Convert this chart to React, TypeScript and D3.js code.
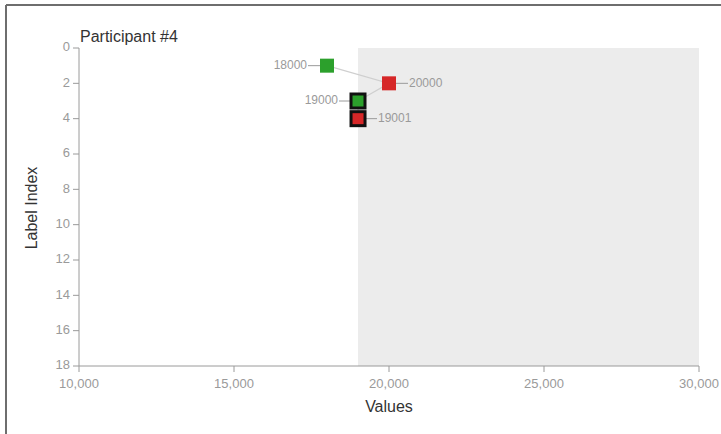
import * as d3 from "d3";

type Point = {
    value: number;
    index: number;
    kind: "start" | "end";
    outlined: boolean;
};

const title = "Participant #4";
const pointValues = [18000, 20000, 19000, 19001];
const pointIndices = [1, 2, 3, 4];
const pointKinds: ("start" | "end")[] = ["start", "end", "start", "end"];
const pointOutlined = [false, false, true, true];
const shadeRange = [19000, 30000];
const xTickValues = [10000, 15000, 20000, 25000, 30000];
const yTickValues = [0, 2, 4, 6, 8, 10, 12, 14, 16, 18];

const points: Point[] = pointValues.map((v, i) => ({
    value: v,
    index: pointIndices[i],
    kind: pointKinds[i],
    outlined: pointOutlined[i],
}));

export default function App() {
    const width = 721;
    const height = 434;
    const margin = { top: 48, right: 22, bottom: 68, left: 79 };
    const xScale = d3.scaleLinear().domain([10000, 30000]).range([margin.left, width - margin.right]);
    const yScale = d3.scaleLinear().domain([0, 18]).range([margin.top, height - margin.bottom]);
    const fmt = d3.format(",");
    const line = d3.line<Point>().x((d) => xScale(d.value)).y((d) => yScale(d.index));
    const size = 14;
    const axisColor = "#9a9a9a";
    const tickText = "#9a9a9a";
    const font = "'Liberation Sans', Arial, sans-serif";
    const x0 = xScale(10000);
    const y0 = yScale(18);

    return (
        <svg
            width={width}
            height={height}
            style={{ position: "absolute", left: 0, top: 0, background: "#fff" }}
            fontFamily={font}
        >
            {/* frame of the original screenshot */}
            <line x1={6} x2={width} y1={5} y2={5} stroke="#6e6e6e" strokeWidth={2} />
            <line x1={6} x2={6} y1={5} y2={height} stroke="#6e6e6e" strokeWidth={2} />

            <rect
                x={xScale(shadeRange[0])}
                y={yScale(0)}
                width={xScale(shadeRange[1]) - xScale(shadeRange[0])}
                height={yScale(18) - yScale(0)}
                fill="#ececec"
            />

            <text x={80} y={42} fontSize={16} fill="#333">{title}</text>

            {/* y axis */}
            <line x1={x0} x2={x0} y1={yScale(0)} y2={y0} stroke={axisColor} />
            {yTickValues.map((t) => (
                <g key={t}>
                    <line x1={x0 - 6} x2={x0} y1={yScale(t)} y2={yScale(t)} stroke={axisColor} />
                    <text
                        x={x0 - 9}
                        y={yScale(t)}
                        textAnchor="end"
                        dominantBaseline="middle"
                        fontSize={13}
                        fill={tickText}
                    >
                        {t}
                    </text>
                </g>
            ))}

            {/* x axis */}
            <line x1={x0} x2={xScale(30000)} y1={y0} y2={y0} stroke={axisColor} />
            {xTickValues.map((t) => (
                <g key={t}>
                    <line x1={xScale(t)} x2={xScale(t)} y1={y0} y2={y0 + 6} stroke={axisColor} />
                    <text x={xScale(t)} y={y0 + 22} textAnchor="middle" fontSize={13} fill={tickText}>
                        {fmt(t)}
                    </text>
                </g>
            ))}

            <text x={389} y={412} textAnchor="middle" fontSize={16} fill="#333">Values</text>
            <text
                transform={`translate(37, 208) rotate(-90)`}
                textAnchor="middle"
                fontSize={16}
                fill="#333"
            >
                Label Index
            </text>

            <path d={line(points) ?? ""} fill="none" stroke="#cfcfcf" strokeWidth={1.2} />

            {points.map((d) => {
                const cx = xScale(d.value);
                const cy = yScale(d.index);
                const isStart = d.kind === "start";
                const edge = isStart ? cx - size / 2 : cx + size / 2;
                const end = isStart ? edge - 12 : edge + 12;
                return (
                    <g key={`${d.value}-${d.index}`}>
                        <line x1={edge} x2={end} y1={cy} y2={cy} stroke="#9a9a9a" />
                        <text
                            x={isStart ? end - 1 : end + 1}
                            y={cy}
                            textAnchor={isStart ? "end" : "start"}
                            dominantBaseline="middle"
                            fontSize={12}
                            fill="#9a9a9a"
                        >
                            {d.value}
                        </text>
                        <rect
                            x={cx - size / 2}
                            y={cy - size / 2}
                            width={size}
                            height={size}
                            fill={isStart ? "#2ca02c" : "#d62728"}
                            stroke={d.outlined ? "#111" : "none"}
                            strokeWidth={d.outlined ? 3 : 0}
                        />
                    </g>
                );
            })}
        </svg>
    );
}
